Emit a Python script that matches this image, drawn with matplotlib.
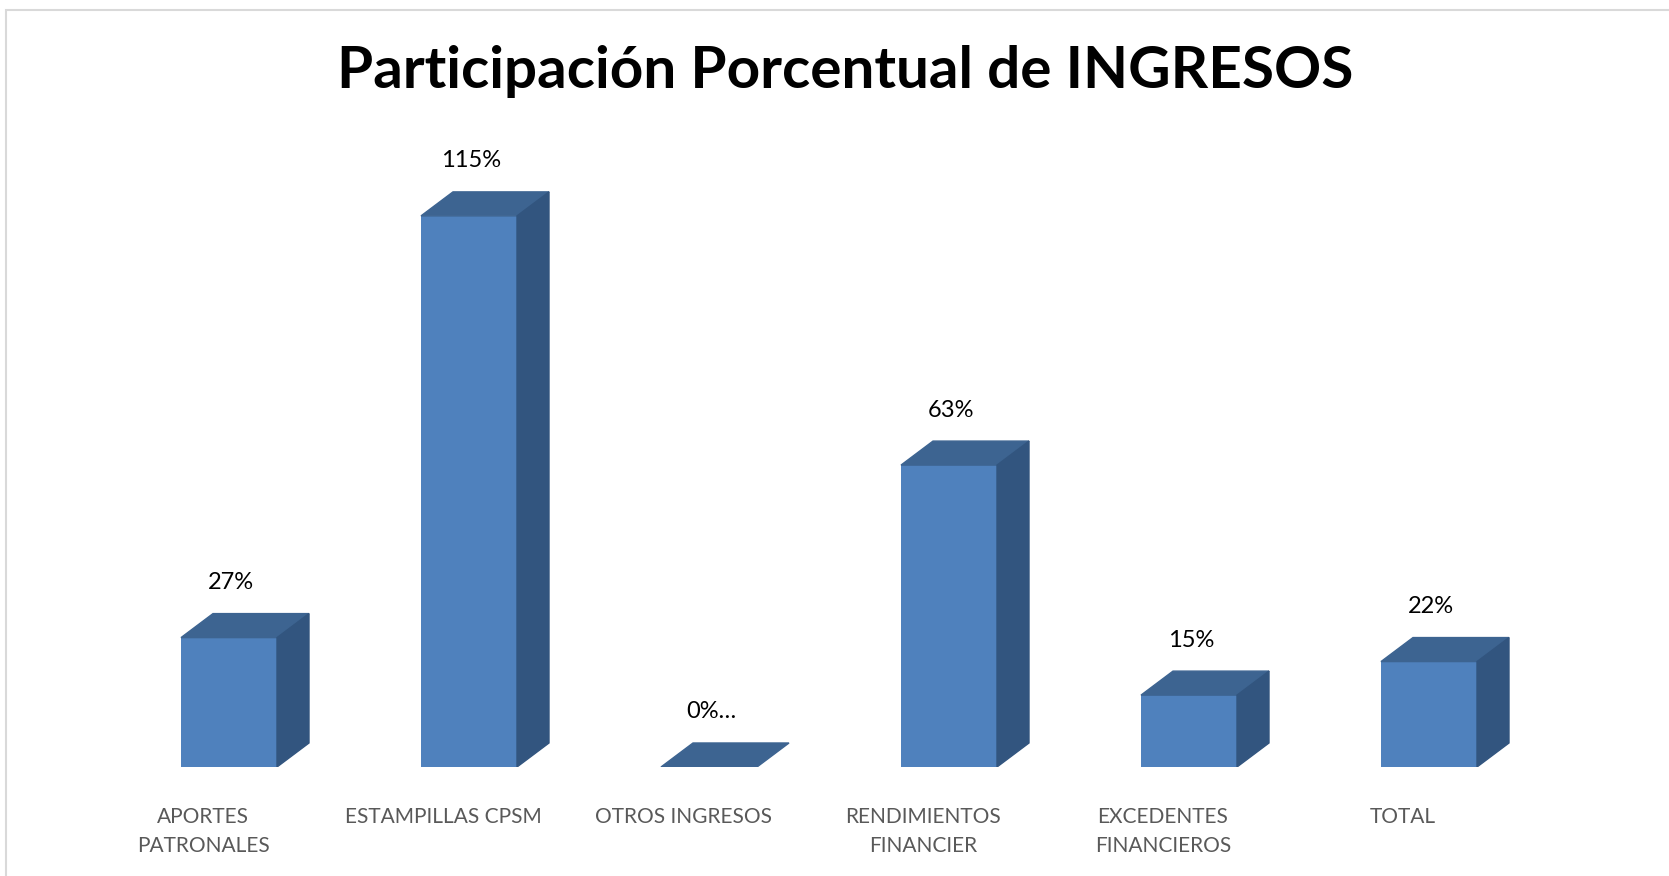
import matplotlib
matplotlib.use("Agg")
import matplotlib.pyplot as plt
from matplotlib.patches import Polygon, Rectangle
import numpy as np

categories = ["APORTES\nPATRONALES", "ESTAMPILLAS CPSM", "OTROS INGRESOS",
              "RENDIMIENTOS\nFINANCIER", "EXCEDENTES\nFINANCIEROS", "TOTAL"]
values = [27, 115, 0, 63, 15, 22]
value_labels = ["27%", "115%", "0%…", "63%", "15%", "22%"]

front = "#4f81bd"
top_c = "#3d6491"
side_c = "#32557f"

W, H, DPI = 1669, 876, 100
fig = plt.figure(figsize=(W / DPI, H / DPI), dpi=DPI)
plt.rcParams['font.family'] = ['Lato', 'DejaVu Sans']

# axes placed in pixels: 240 px per category, ~4.79 px per percent
ax = fig.add_axes([109 / W, 109 / H, 1440 / W, 623 / H])
ax.set_xlim(-0.5, 5.5)
ax.set_ylim(0, 130)
ax.axis("off")

x = np.arange(len(categories))
bw = 0.4
ax.bar(x, values, width=bw, color=front, zorder=2)

# depth of the 3d look, in pixels -> data units
dx = 32 / 240.0
dy = 24 / 4.79
for xi, v in zip(x, values):
    l, r = xi - bw / 2, xi + bw / 2
    ax.add_patch(Polygon([(l, v), (r, v), (r + dx, v + dy), (l + dx, v + dy)],
                         closed=True, color=top_c, zorder=3))
    if v > 0:
        ax.add_patch(Polygon([(r, 0), (r + dx, dy), (r + dx, v + dy), (r, v)],
                             closed=True, color=side_c, zorder=3))

for xi, v, lab in zip(x, values, value_labels):
    ax.annotate(lab, (xi, v), xytext=(2, 55), textcoords="offset pixels",
                ha="center", va="center", fontsize=17, color="black")

for xi, lab in zip(x, categories):
    ax.annotate(lab, (xi, 0), xytext=(-26, -40), textcoords="offset pixels",
                ha="center", va="top", fontsize=15, color="#595959",
                linespacing=1.55, annotation_clip=False)

fig.text(845 / W, 1 - 72 / H, "Participación Porcentual de INGRESOS",
         ha="center", va="center", fontsize=42, fontweight="bold", color="black")

fig.patches.append(Rectangle((5.5 / W, -0.1), 2, 1.1 - 9.5 / H, fill=False,
                             edgecolor="#d9d9d9", lw=1.5, transform=fig.transFigure))

fig.savefig("out.png", dpi=DPI)
